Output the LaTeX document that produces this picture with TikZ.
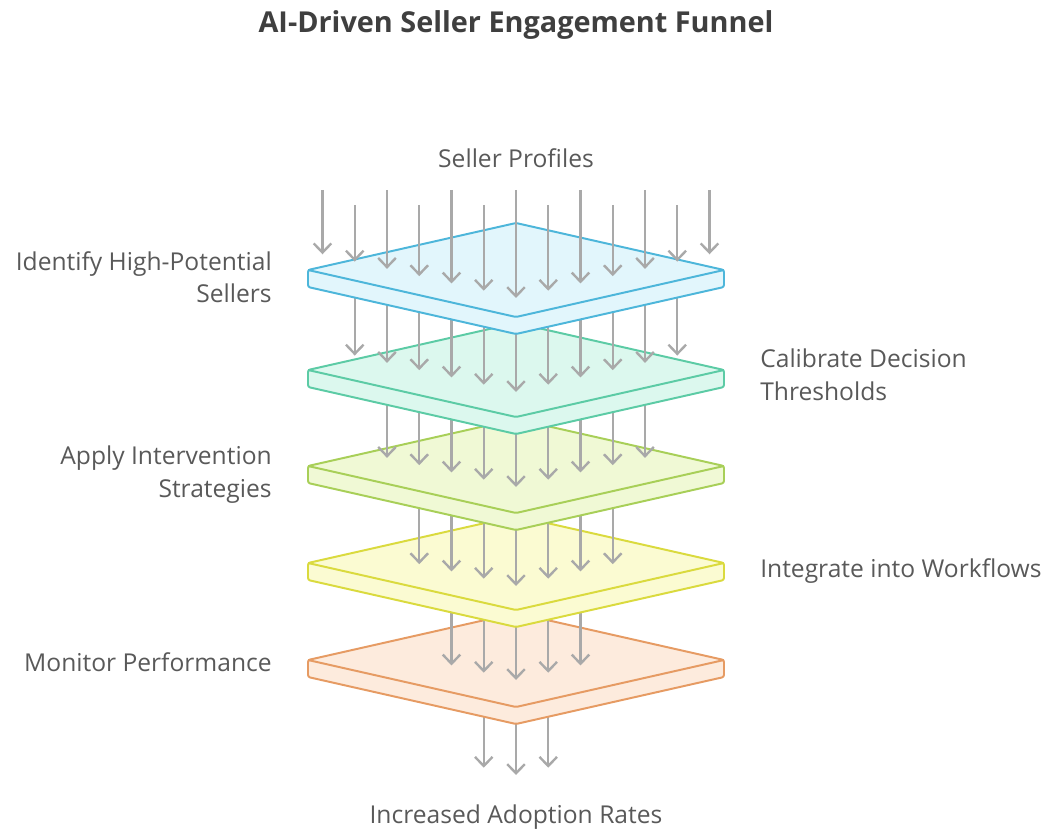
\documentclass[tikz,border=0pt]{standalone}
\usepackage{fontspec}
\setmainfont{Open Sans}
\usetikzlibrary{arrows.meta}

\definecolor{arrowGray}{HTML}{A9A9A9}
\definecolor{textGray}{HTML}{595959}
\definecolor{titleGray}{HTML}{3F3F3F}
\definecolor{blueLine}{HTML}{4DB6DA}
\definecolor{blueFill}{HTML}{E2F6FC}
\definecolor{greenLine}{HTML}{5CCBA5}
\definecolor{greenFill}{HTML}{DCF8EE}
\definecolor{limeLine}{HTML}{A8CF58}
\definecolor{limeFill}{HTML}{F0F9D5}
\definecolor{yellowLine}{HTML}{DADA3E}
\definecolor{yellowFill}{HTML}{FBFBD2}
\definecolor{orangeLine}{HTML}{E69B63}
\definecolor{orangeFill}{HTML}{FDEBDD}

\begin{document}
\begin{tikzpicture}[x=0.025cm,y=-0.025cm,
    slab/.style={line width=1.4pt, rounded corners=1.5pt, line join=round},
    flow/.style={arrowGray, line width=1.7pt, -{Straight Barb[length=6.5pt,width=12.5pt]}},
    lbl/.style={text=textGray, inner sep=0pt, font=\fontsize{17.5}{23}\selectfont}]

  \useasboundingbox (0,0) rectangle (1052,833);

  \def\cx{516}
  \def\hw{208}
  \def\hh{47}
  \def\thick{17}
  \def\gap{32.25}
  \pgfmathsetmacro\slope{\hh/\hw}

  % the three arrows leaving the funnel
  \foreach \i in {-1,0,1}
    \draw[flow] ({\cx+\i*\gap},660) -- ({\cx+\i*\gap},{775-\slope*abs(\i*\gap)});

  % draw the layers bottom up, each with the arrows that land on it
  \foreach \c/\top/\tip/\n/\col in {660/563/20/2/orange, 563/466/23/3/yellow,
      466/370/21/4/lime, 370/270/22/5/green, 270/0/28/6/blue}
  {
    \filldraw[slab, draw=\col Line, fill=\col Fill] (\cx-\hw,\c) -- (\cx,\c-\hh)
      -- (\cx+\hw,\c) -- (\cx+\hw,\c+\thick) -- (\cx,\c+\hh+\thick)
      -- (\cx-\hw,\c+\thick) -- cycle;
    \draw[slab, draw=\col Line] (\cx-\hw,\c) -- (\cx,\c+\hh) -- (\cx+\hw,\c);
    \foreach \i in {-\n,...,\n}
    {
      \pgfmathsetmacro\ax{\cx+\i*\gap}
      \pgfmathsetmacro\ay{ifthenelse(\top==0, ifthenelse(isodd(\i),205,190), \top)}
      \draw[flow] (\ax,\ay) -- (\ax,{\c+\tip-\slope*abs(\i*\gap)});
    }
  }

  % title and the stage labels (base of a two-line label is its last line)
  \node[lbl, anchor=base, text=titleGray, font=\fontsize{20.5}{24}\selectfont\bfseries] (title) at (516,33) {AI-Driven Seller Engagement Funnel};
  \node[lbl, anchor=base] (input) at (516,168) {Seller Profiles};
  \node[lbl, anchor=base east, align=right] (identify) at (272,303) {Identify High-Potential\\Sellers};
  \node[lbl, anchor=base west, align=left] (calibrate) at (760,400) {Calibrate Decision\\Thresholds};
  \node[lbl, anchor=base east, align=right] (apply) at (272,497) {Apply Intervention\\Strategies};
  \node[lbl, anchor=base west] (integrate) at (760,577) {Integrate into Workflows};
  \node[lbl, anchor=base east] (monitor) at (272,671) {Monitor Performance};
  \node[lbl, anchor=base] (output) at (516,823) {Increased Adoption Rates};

\end{tikzpicture}
\end{document}
